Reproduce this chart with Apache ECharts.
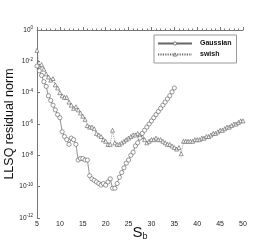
<!DOCTYPE html>
<html><head><meta charset="utf-8">
<script src="https://cdn.jsdelivr.net/npm/echarts@6/dist/echarts.min.js"></script>
<style>html,body{margin:0;padding:0;background:#fff}#c{width:277px;height:246px}</style>
</head><body><div id="c"></div>
<script>
// S_b values (step 0.5)
const sGaussian = [];
for (let i = 0; i <= 60; i++) sGaussian.push(5 + i * 0.5);
const sSwish = [];
for (let i = 0; i <= 90; i++) sSwish.push(5 + i * 0.5);
// log10 of residual norm
const gaussianExp = [-2.3,-2.6,-2.9,-3.3,-3.6,-4.2,-4.5,-4.8,-5.1,-5.4,
  -5.6,-6.5,-6.8,-7.0,-7.3,-6.9,-7.0,-7.3,-8.3,-8.2,
  -8.2,-8.3,-8.3,-9.3,-9.5,-9.6,-9.7,-9.8,-9.9,-9.8,
  -9.9,-9.7,-9.5,-10.1,-10.1,-9.8,-9.4,-9.1,-8.8,-8.5,
  -8.3,-8.0,-7.8,-7.4,-7.2,-6.9,-6.6,-6.4,-6.2,-6.0,
  -5.8,-5.6,-5.4,-5.2,-5.0,-4.8,-4.6,-4.4,-4.2,-3.95,-3.7];
const swishExp = [-1.3,-2.3,-2.2,-2.5,-2.8,-3.0,-3.2,-3.1,-3.5,-3.7,
  -4.0,-4.2,-4.3,-4.3,-4.6,-4.8,-5.0,-4.9,-5.1,-5.3,
  -5.5,-5.7,-6.1,-6.2,-6.2,-6.3,-6.6,-6.7,-6.8,-7.0,
  -7.1,-7.3,-7.3,-6.4,-7.2,-7.3,-7.3,-7.2,-7.1,-7.0,
  -6.9,-6.8,-6.7,-6.7,-6.6,-6.7,-6.8,-7.0,-7.2,-7.1,
  -7.0,-7.0,-6.9,-7.0,-7.0,-7.1,-7.2,-7.3,-7.3,-7.4,
  -7.5,-7.6,-7.5,-7.9,-7.1,-7.1,-7.1,-7.1,-7.1,-7.0,
  -7.0,-7.0,-6.9,-6.9,-6.8,-6.8,-6.7,-6.6,-6.6,-6.5,
  -6.4,-6.4,-6.3,-6.2,-6.2,-6.1,-6.0,-6.0,-5.9,-5.8,-5.8];
const xTicks = [5,10,15,20,25,30,35,40,45,50];
const yTicks = [0,-2,-4,-6,-8,-10,-12];

const font = 'Liberation Sans';
const chart = echarts.init(document.getElementById('c'), null, {renderer:'canvas'});
chart.setOption({
  animation: false,
  backgroundColor: '#fff',
  grid: {left: 37, right: 34, top: 30, bottom: 28, containLabel: false, outerBoundsMode: 'none'},
  legend: {
    left: 154, top: 35,
    orient: 'vertical',
    borderColor: '#999', borderWidth: 1, padding: [5, 5, 5, 3],
    itemWidth: 34, itemHeight: 4, itemGap: 4,
    itemStyle: {color: '#fff', borderColor: '#555', borderWidth: 0.7},
    textStyle: {fontFamily: font, fontSize: 7, fontWeight: 'bold', color: '#111', padding: [0,0,0,3]},
    data: ['Gaussian', 'swish']
  },
  xAxis: {
    type: 'value', min: 5, max: 50, interval: 5,
    name: '{s|S}{b|b}', nameLocation: 'middle', nameGap: 6, nameMoveOverlap: false,
    nameTextStyle: {rich: {
      s: {fontFamily: font, fontSize: 15, color: '#111'},
      b: {fontFamily: font, fontSize: 9, color: '#111', verticalAlign: 'top', padding: [8,0,0,0]}
    }},
    axisLine: {lineStyle: {color: '#777', width: 1}},
    axisTick: {inside: true, length: 3, lineStyle: {color: '#777'}},
    minorTick: {show: true, splitNumber: 5, length: 1.5, lineStyle: {color: '#777'}},
    splitLine: {show: false},
    axisLabel: {fontFamily: font, fontSize: 7, color: '#222', margin: 3,
      formatter: v => xTicks.includes(v) ? String(v) : ''}
  },
  yAxis: {
    type: 'value', min: -12, max: 0, interval: 2,
    name: 'LLSQ residual norm', nameLocation: 'middle', nameGap: 21, nameMoveOverlap: false,
    nameTextStyle: {fontFamily: font, fontSize: 12.5, color: '#111'},
    axisLine: {show: true, lineStyle: {color: '#777', width: 1}},
    axisTick: {show: true, inside: true, length: 3, lineStyle: {color: '#777'}},
    splitLine: {show: false},
    axisLabel: {margin: 4,
      formatter: v => yTicks.includes(v) ? '{b|10}{s|' + v + '}' : '',
      rich: {
        b: {fontFamily: font, fontSize: 6.5, color: '#222'},
        s: {fontFamily: font, fontSize: 4.5, color: '#222', verticalAlign: 'bottom', padding: [0,0,4,0]}
      }}
  },
  series: [
    {
      name: 'Gaussian', type: 'line',
      data: sGaussian.map((s, i) => [s, gaussianExp[i]]),
      symbol: 'circle', symbolSize: 4.2, showAllSymbol: true,
      lineStyle: {color: '#666', width: 0.7, type: 'solid'},
      itemStyle: {color: '#fff', borderColor: '#555', borderWidth: 0.6},
      z: 3
    },
    {
      name: 'swish', type: 'line',
      data: sSwish.map((s, i) => [s, swishExp[i]]),
      symbol: 'triangle', symbolSize: 4, showAllSymbol: true,
      lineStyle: {color: '#666', width: 0.6, type: [1.2, 1.2]},
      itemStyle: {color: '#fff', borderColor: '#555', borderWidth: 0.6},
      z: 2
    }
  ]
});
</script></body></html>
